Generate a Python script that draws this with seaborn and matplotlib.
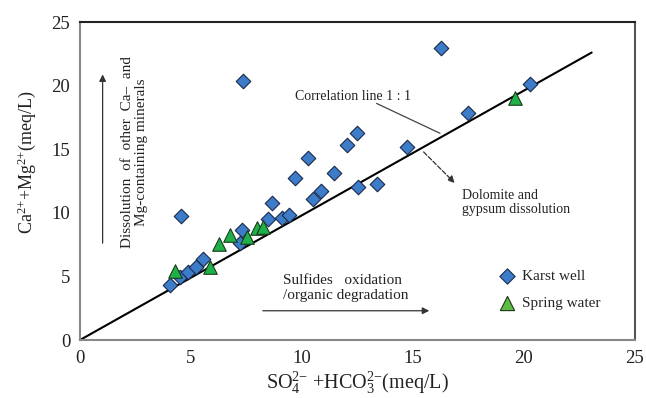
import matplotlib
matplotlib.use("Agg")
import matplotlib.pyplot as plt
from matplotlib.ticker import MultipleLocator
import seaborn as sns
import pandas as pd

# Karst well samples
karst_x = [4.05, 4.51, 4.88, 5.23, 5.56, 4.54, 7.21, 7.28, 8.48, 9.09, 9.43, 8.63, 10.48,
           10.86, 9.69, 11.44, 10.28, 12.54, 13.40, 12.01, 12.50, 14.75, 17.49, 20.27, 16.26, 7.33]
karst_y = [4.32, 4.93, 5.37, 5.76, 6.34, 9.75, 7.60, 8.65, 9.49, 9.56, 9.83, 10.74, 11.06,
           11.71, 12.71, 13.16, 14.28, 12.00, 12.24, 15.33, 16.30, 15.20, 17.87, 20.10, 22.98, 20.40]

# Spring water samples
spring_x = [4.28, 5.85, 6.28, 6.78, 7.54, 7.96, 8.26, 19.59]
spring_y = [5.45, 5.71, 7.52, 8.25, 8.12, 8.78, 8.91, 19.00]

# 1:1 correlation line
line_x = [0, 23.05]
line_y = [0, 22.6]

karst = pd.DataFrame({"x": karst_x, "y": karst_y})
spring = pd.DataFrame({"x": spring_x, "y": spring_y})

sns.set_style("white")
plt.rcParams["font.family"] = ["Liberation Serif", "DejaVu Serif"]
plt.rcParams["mathtext.fontset"] = "custom"
plt.rcParams["mathtext.rm"] = "Liberation Serif"
plt.rcParams["mathtext.it"] = "Liberation Serif:italic"

fig = plt.figure(figsize=(6.46, 3.98), dpi=100)
ax = fig.add_axes([0.1238, 0.1457, 0.8591, 0.799])

sns.lineplot(x=line_x, y=line_y, ax=ax, color="black", linewidth=1.5, zorder=2)
sns.scatterplot(data=karst, x="x", y="y", ax=ax, marker="D", s=55, color="#3d7cc9",
                edgecolor="#1a2a4a", linewidth=0.8, label="Karst well", zorder=3)
sns.scatterplot(data=spring, x="x", y="y", ax=ax, marker="^", s=95, color="#1fb04a",
                edgecolor="#1a3a1a", linewidth=0.8, label="Spring water", zorder=3)

ax.set_xlim(0, 25)
ax.set_ylim(0, 25)
ax.xaxis.set_major_locator(MultipleLocator(5))
ax.yaxis.set_major_locator(MultipleLocator(5))
ax.xaxis.set_minor_locator(MultipleLocator(1))
ax.yaxis.set_minor_locator(MultipleLocator(1))
ax.tick_params(which="major", direction="inout", length=7, width=1, color="#888888",
               labelsize=13.5, labelcolor="#222222")
ax.tick_params(which="minor", direction="in", length=4, width=1, color="#888888")
ax.tick_params(top=False, right=False)

for side in ["left", "bottom"]:
    ax.spines[side].set_color("#888888")
    ax.spines[side].set_linewidth(1.5)
ax.spines["top"].set_color("#222222")
ax.spines["top"].set_linewidth(1.5)
ax.spines["right"].set_color("#555555")
ax.spines["right"].set_linewidth(1.5)

ax.set_xlabel(r"SO$_4^{2{-}}$ +HCO$_3^{2{-}}$(meq/L)", fontsize=14.5, labelpad=2, color="#222222")
ax.set_ylabel(r"Ca$^{2{+}}$+Mg$^{2{+}}$(meq/L)", fontsize=13, color="#222222")
ax.yaxis.set_label_coords(-0.076, 0.56)

# annotations
ax.text(9.68, 19.15, "Correlation line 1 : 1", fontsize=10, color="#222222", va="center")
ax.plot([13.36, 16.22], [18.6, 16.25], color="#444444", linewidth=0.9)
ax.annotate("", xy=(16.97, 12.19), xytext=(15.39, 14.94),
            arrowprops=dict(arrowstyle="-|>", linestyle="--", color="#333333", lw=0.9,
                            mutation_scale=10))
ax.text(17.19, 11.9, "Dolomite and\ngypsum dissolution", fontsize=10, color="#222222",
        va="top", linespacing=1.1)

ax.annotate("", xy=(1.02, 21.1), xytext=(1.02, 7.4),
            arrowprops=dict(arrowstyle="-|>", color="#333333", lw=0.9, mutation_scale=10))
ax.text(2.45, 14.8, "Dissolution  of  other  Ca\u2013  and\nMg-containing minerals",
        rotation=90, fontsize=11, color="#222222", ha="center", va="center",
        linespacing=1.1)

ax.annotate("", xy=(15.86, 2.3), xytext=(8.11, 2.3),
            arrowprops=dict(arrowstyle="-|>", color="#333333", lw=0.9, mutation_scale=10))
ax.text(9.15, 4.1, "Sulfides   oxidation\n/organic degradation", fontsize=11, color="#222222",
        va="center", linespacing=1.25)

leg = ax.legend(loc="upper left", bbox_to_anchor=(0.751, 0.222), frameon=False, fontsize=11,
                borderaxespad=0, borderpad=0, handlelength=1.4, handletextpad=0.25,
                labelspacing=0.85, markerscale=1.05)
leg.legend_handles[1].set_facecolor("#5dbb46")

fig.savefig("out.png", dpi=100)
